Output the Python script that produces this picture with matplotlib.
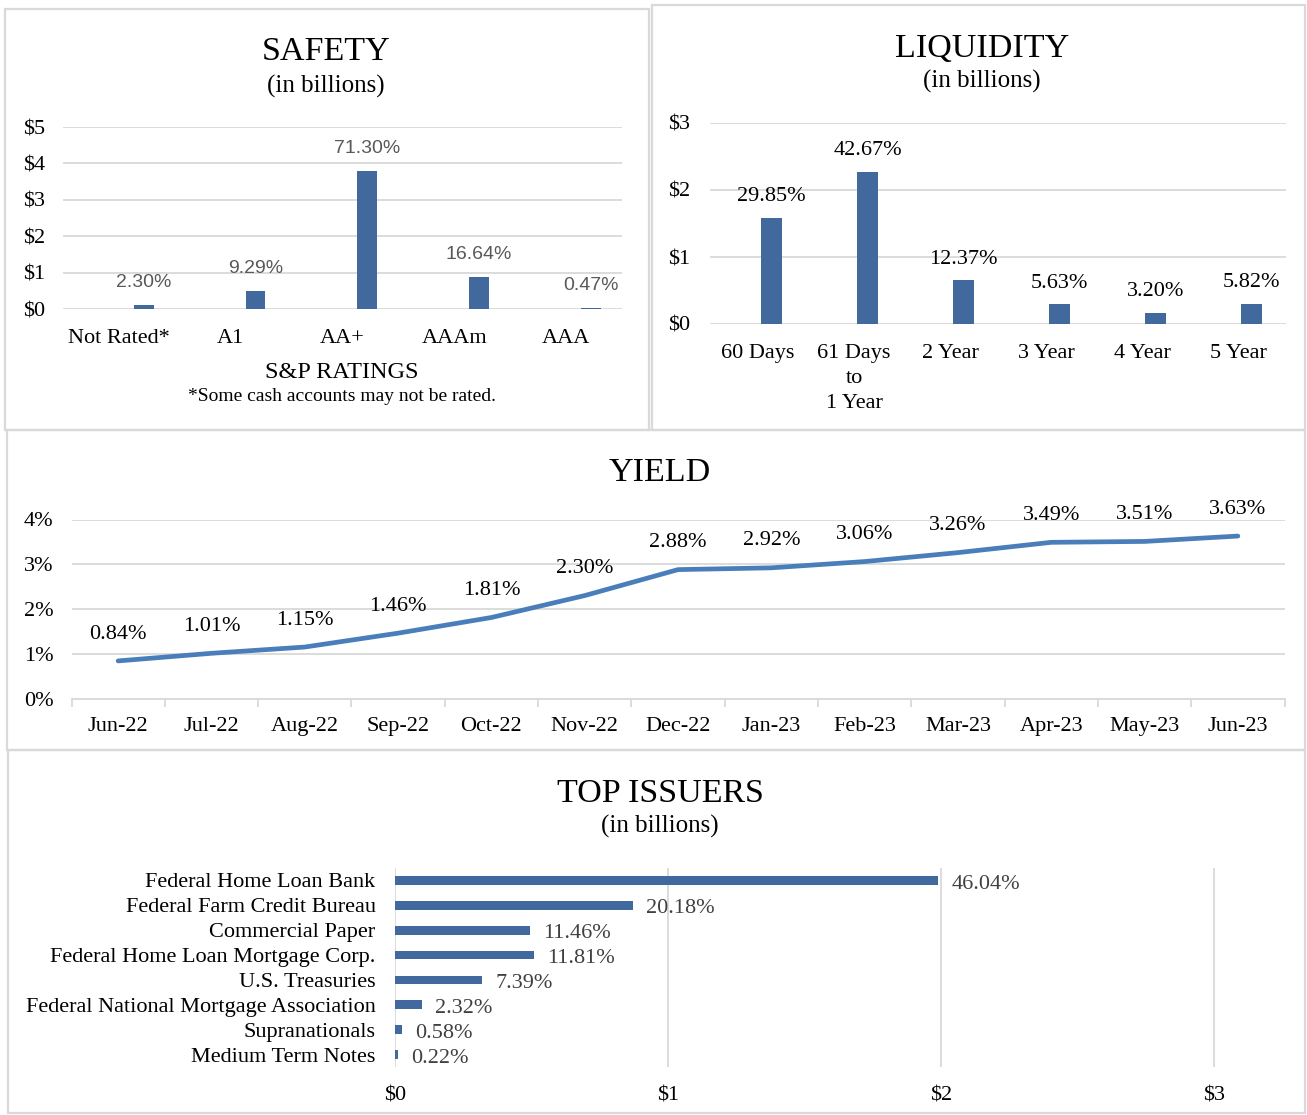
import matplotlib
matplotlib.use("Agg")
import matplotlib.pyplot as plt
from matplotlib.patches import Rectangle
from matplotlib.ticker import FuncFormatter

# ---- data -------------------------------------------------------------
safety_cats = ["Not Rated*", "A1", "AA+", "AAAm", "AAA"]
safety_vals = [0.12, 0.49, 3.79, 0.885, 0.025]
safety_pcts = ["2.30%", "9.29%", "71.30%", "16.64%", "0.47%"]

liq_cats = ["60 Days", "61 Days\nto\n1 Year", "2 Year", "3 Year", "4 Year", "5 Year"]
liq_vals = [1.58, 2.265, 0.65, 0.292, 0.165, 0.30]
liq_pcts = ["29.85%", "42.67%", "12.37%", "5.63%", "3.20%", "5.82%"]

yield_months = ["Jun-22", "Jul-22", "Aug-22", "Sep-22", "Oct-22", "Nov-22", "Dec-22",
                "Jan-23", "Feb-23", "Mar-23", "Apr-23", "May-23", "Jun-23"]
yield_vals = [0.84, 1.01, 1.15, 1.46, 1.81, 2.30, 2.88, 2.92, 3.06, 3.26, 3.49, 3.51, 3.63]

issuer_names = ["Federal Home Loan Bank", "Federal Farm Credit Bureau", "Commercial Paper",
                "Federal Home Loan Mortgage Corp.", "U.S. Treasuries",
                "Federal National Mortgage Association", "Supranationals", "Medium Term Notes"]
issuer_vals = [1.99, 0.872, 0.495, 0.51, 0.319, 0.10, 0.025, 0.0095]
issuer_pcts = ["46.04%", "20.18%", "11.46%", "11.81%", "7.39%", "2.32%", "0.58%", "0.22%"]

# ---- style ------------------------------------------------------------
W, H = 1307, 1115
SERIF = "Liberation Serif"
SANS = "Liberation Sans"
BAR = "#41699e"
LINE = "#4a7ebb"
GRID = "#d9d9d9"
plt.rcParams["font.family"] = SERIF

fig = plt.figure(figsize=(W / 100, H / 100), dpi=100)


def px_axes(x0, y0, x1, y1):
    return fig.add_axes([x0 / W, 1 - y1 / H, (x1 - x0) / W, (y1 - y0) / H])


def fig_text(x, y, s, **kw):
    fig.text(x / W, 1 - y / H, s, **kw)


def panel(x0, y0, x1, y1):
    fig.add_artist(Rectangle((x0 / W, 1 - y1 / H), (x1 - x0) / W, (y1 - y0) / H,
                             transform=fig.transFigure, fill=False,
                             edgecolor=GRID, lw=1.6))


def clean(ax):
    for s in ax.spines.values():
        s.set_visible(False)
    ax.set_axisbelow(True)


dollar = FuncFormatter(lambda v, _: f"${v:.0f}")

# panel borders
panel(5, 9, 649, 430)
panel(652, 5, 1305, 430)
panel(7, 430, 1305, 750)
panel(8, 750, 1305, 1113)

# ---- SAFETY -----------------------------------------------------------
ax = px_axes(63, 127, 622, 309)
clean(ax)
xs = range(len(safety_cats))
ax.bar([i + 0.222 for i in xs], safety_vals, width=0.177, color=BAR, zorder=3)
for i, (v, p) in enumerate(zip(safety_vals, safety_pcts)):
    ax.annotate(p, (i + 0.222, v), xytext=(0, 10), textcoords="offset points",
                ha="center", va="bottom", fontsize=14, family=SANS, color="#595959")
ax.set_xlim(-0.5, 4.5)
ax.set_ylim(0, 5)
ax.set_yticks(range(6))
ax.yaxis.set_major_formatter(dollar)
ax.set_xticks(list(xs))
ax.set_xticklabels(safety_cats)
ax.grid(axis="y", color=GRID, lw=1.3)
ax.tick_params(axis="both", length=0, labelsize=16)
ax.tick_params(axis="x", pad=14.5)
ax.tick_params(axis="y", pad=13)
fig_text(326, 60, "SAFETY", ha="center", va="baseline", fontsize=24.5)
fig_text(326, 93, "(in billions)", ha="center", va="baseline", fontsize=18)
fig_text(342, 378, "S&P RATINGS", ha="center", va="baseline", fontsize=17.5)
fig_text(342, 401, "*Some cash accounts may not be rated.", ha="center",
         va="baseline", fontsize=14)

# ---- LIQUIDITY --------------------------------------------------------
ax = px_axes(710, 123, 1286, 324)
clean(ax)
xs = range(len(liq_cats))
ax.bar([i + 0.14 for i in xs], liq_vals, width=0.22, color=BAR, zorder=3)
for i, (v, p) in enumerate(zip(liq_vals, liq_pcts)):
    ax.annotate(p, (i + 0.14, v), xytext=(0, 8.5), textcoords="offset points",
                ha="center", va="bottom", fontsize=16, color="black")
ax.set_xlim(-0.5, 5.5)
ax.set_ylim(0, 3)
ax.set_yticks(range(4))
ax.yaxis.set_major_formatter(dollar)
ax.set_xticks(list(xs))
ax.set_xticklabels(liq_cats, linespacing=1.42)
ax.grid(axis="y", color=GRID, lw=1.3)
ax.tick_params(axis="both", length=0, labelsize=16)
ax.tick_params(axis="x", pad=14.5)
ax.tick_params(axis="y", pad=14)
fig_text(982, 57, "LIQUIDITY", ha="center", va="baseline", fontsize=24.5)
fig_text(982, 88, "(in billions)", ha="center", va="baseline", fontsize=18)

# ---- YIELD ------------------------------------------------------------
ax = px_axes(71.5, 519.5, 1284.5, 698.5)
clean(ax)
ax.spines["bottom"].set_visible(True)
ax.spines["bottom"].set_color(GRID)
ax.spines["bottom"].set_linewidth(1.3)
xs = list(range(len(yield_months)))
ax.plot(xs, yield_vals, color=LINE, lw=3.4, solid_capstyle="round", zorder=3)
for i, v in enumerate(yield_vals):
    ax.annotate(f"{v:.2f}%", (i, v), xytext=(0, 12.5), textcoords="offset points",
                ha="center", va="bottom", fontsize=16, color="black")
ax.set_xlim(-0.5, 12.5)
ax.set_ylim(0, 4)
ax.set_yticks(range(5))
ax.yaxis.set_major_formatter(FuncFormatter(lambda v, _: f"{v:.0f}%"))
ax.set_xticks(xs)
ax.set_xticklabels(yield_months)
ax.set_xticks([i - 0.5 for i in range(14)], minor=True)
ax.grid(axis="y", color=GRID, lw=1.3)
ax.tick_params(axis="both", which="major", length=0, labelsize=16)
ax.tick_params(axis="x", which="major", pad=13.5)
ax.tick_params(axis="x", which="minor", length=6, color=GRID, width=1.3)
ax.tick_params(axis="y", pad=13)
fig_text(660, 481, "YIELD", ha="center", va="baseline", fontsize=24.5)

# ---- TOP ISSUERS ------------------------------------------------------
ax = px_axes(395, 868, 1285, 1067)
clean(ax)
ys = list(range(len(issuer_names)))
ax.barh(ys, issuer_vals, height=0.35, color=BAR, zorder=3)
for i, (v, p) in enumerate(zip(issuer_vals, issuer_pcts)):
    ax.annotate(p, (v, i), xytext=(9.5, -0.8), textcoords="offset points",
                ha="left", va="center_baseline", fontsize=16, color="#404040")
ax.set_ylim(7.5, -0.5)
ax.set_xlim(0, 890 / 273)
ax.set_xticks(range(4))
ax.xaxis.set_major_formatter(dollar)
ax.set_yticks(ys)
ax.set_yticklabels(issuer_names)
ax.grid(axis="x", color=GRID, lw=1.3)
ax.tick_params(axis="both", length=0, labelsize=16)
ax.tick_params(axis="x", pad=14)
ax.tick_params(axis="y", pad=14)
fig_text(660, 802, "TOP ISSUERS", ha="center", va="baseline", fontsize=24.5)
fig_text(660, 833, "(in billions)", ha="center", va="baseline", fontsize=18)

fig.savefig("out.png", dpi=100)
